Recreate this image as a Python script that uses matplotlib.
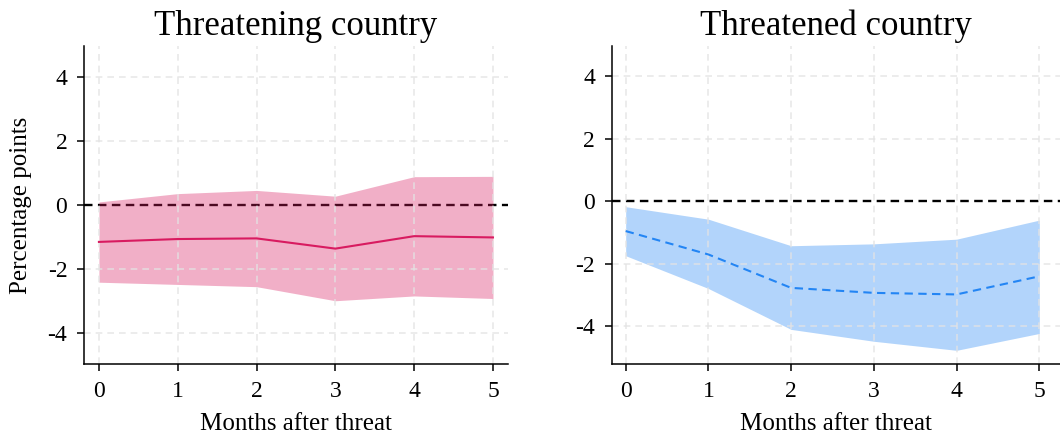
import numpy as np
import matplotlib
matplotlib.use("Agg")
import matplotlib.pyplot as plt

PINK, BLUE = "#D81B60", "#2385F4"
GRIDC = "#e3e3e3"

months = [0, 1, 2, 3, 4, 5]

# threatening country
ing_mean = [-1.15, -1.06, -1.04, -1.36, -0.97, -1.01]
ing_hi = [0.10, 0.36, 0.46, 0.28, 0.89, 0.90]
ing_lo = [-2.41, -2.48, -2.55, -2.99, -2.84, -2.92]

# threatened country
ed_mean = [-0.96, -1.71, -2.78, -2.94, -2.99, -2.41]
ed_hi = [-0.18, -0.58, -1.43, -1.37, -1.22, -0.61]
ed_lo = [-1.75, -2.80, -4.11, -4.49, -4.78, -4.24]

yticks = [-4, -2, 0, 2, 4]

plt.rcParams["font.family"] = ["Liberation Serif", "DejaVu Serif"]
plt.rcParams["axes.unicode_minus"] = False

fig = plt.figure(figsize=(10.6, 4.36), dpi=100)
ax1 = fig.add_axes([0.0792, 0.165, 0.400, 0.729])
ax2 = fig.add_axes([0.577, 0.165, 0.423, 0.729])


def panel(ax, mean, lo, hi, color, ls, title, xlim, ylim):
    ax.axhline(0, color="black", lw=1.7, ls=(0, (3.6, 2.3)), zorder=1)
    ax.fill_between(months, lo, hi, color=color, alpha=0.35, lw=0, zorder=2)
    ax.plot(months, mean, color=color, lw=1.5, ls=ls, zorder=4)
    ax.set_xlim(*xlim)
    ax.set_ylim(*ylim)
    ax.set_xticks(months)
    ax.set_yticks(yticks)
    # grid on top of the band, leaving the zero line alone
    gkw = dict(color=GRIDC, lw=1.2, ls=(0, (4, 3)), alpha=0.8, zorder=3)
    for m in months:
        ax.axvline(m, **gkw)
    for t in yticks:
        if t != 0:
            ax.axhline(t, **gkw)
    for s in ("top", "right"):
        ax.spines[s].set_visible(False)
    for s in ("left", "bottom"):
        ax.spines[s].set_linewidth(1.1)
        ax.spines[s].set_zorder(5)
    ax.tick_params(direction="out", length=5, width=1.1, labelsize=17, pad=7)
    ax.set_xlabel("Months after threat", fontsize=18, labelpad=8)
    ax.set_title(title, fontsize=25, pad=8)


panel(ax1, ing_mean, ing_lo, ing_hi, PINK, "-", "Threatening country",
      (-0.19, 5.19), (-4.97, 4.97))
ax1.set_ylabel("Percentage points", fontsize=18, labelpad=11)
panel(ax2, ed_mean, ed_lo, ed_hi, BLUE, (0, (4, 2.6)), "Threatened country",
      (-0.17, 5.25), (-5.22, 4.96))

fig.savefig("out.png", dpi=100)
